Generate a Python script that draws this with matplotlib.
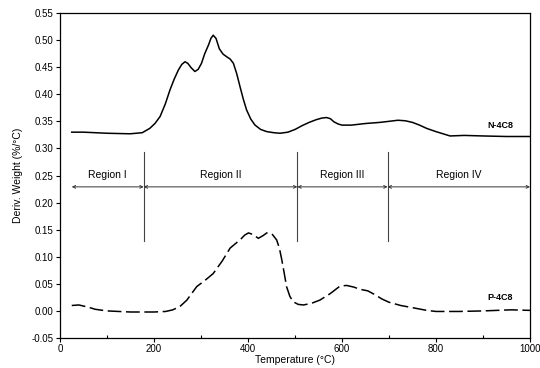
import matplotlib
matplotlib.use('Agg')
import matplotlib.pyplot as plt
from matplotlib.ticker import MultipleLocator

plt.rcParams['font.family'] = ['Liberation Sans', 'DejaVu Sans']

# N-4C8 (solid)
n_temp = [25, 50, 100, 149, 175, 191, 202, 213, 224, 234, 243, 252, 259, 266, 272, 279,
          287, 294, 301, 308, 316, 321, 326, 332, 339, 347, 355, 362, 369, 376, 383,
          390, 397, 406, 415, 427, 440, 455, 468, 485, 500, 515, 530, 545, 557, 567,
          575, 583, 592, 600, 620, 650, 680, 700, 719, 735, 750, 765, 780, 800, 815,
          830, 860, 900, 950, 1000]
n_dtg = [0.330, 0.330, 0.328, 0.327, 0.329, 0.337, 0.346, 0.359, 0.382, 0.408, 0.428,
         0.445, 0.455, 0.460, 0.457, 0.449, 0.442, 0.446, 0.457, 0.475, 0.491, 0.503,
         0.509, 0.503, 0.484, 0.474, 0.469, 0.465, 0.457, 0.438, 0.414, 0.391, 0.371,
         0.354, 0.343, 0.335, 0.331, 0.329, 0.328, 0.330, 0.335, 0.342, 0.348, 0.353,
         0.356, 0.357, 0.355, 0.349, 0.345, 0.343, 0.343, 0.346, 0.348, 0.350, 0.352,
         0.351, 0.348, 0.343, 0.337, 0.331, 0.327, 0.323, 0.324, 0.323, 0.322, 0.322]

# P-4C8 (dashed)
p_temp = [25, 40, 60, 75, 100, 150, 200, 225, 240, 255, 270, 291, 308, 326, 345, 362,
          373, 383, 393, 401, 411, 422, 432, 440, 445, 452, 461, 467, 472, 477, 482,
          489, 496, 507, 518, 535, 553, 575, 596, 610, 625, 638, 655, 670, 685, 700,
          725, 750, 780, 800, 850, 900, 960, 1000]
p_dtg = [0.010, 0.011, 0.007, 0.003, 0.000, -0.002, -0.002, -0.001, 0.002, 0.008, 0.020,
         0.045, 0.056, 0.069, 0.092, 0.116, 0.124, 0.131, 0.140, 0.144, 0.141, 0.134,
         0.139, 0.144, 0.144, 0.141, 0.131, 0.115, 0.094, 0.070, 0.045, 0.027, 0.017,
         0.012, 0.011, 0.014, 0.020, 0.032, 0.046, 0.047, 0.044, 0.040, 0.037, 0.030,
         0.022, 0.016, 0.010, 0.006, 0.001, -0.001, -0.001, 0.000, 0.002, 0.001]

region_bounds = [25, 178, 505, 697, 1000]
region_names = ['Region I', 'Region II', 'Region III', 'Region IV']

fig = plt.figure(figsize=(5.4, 3.68), dpi=100)
ax = fig.add_axes([60/540, 30/368, 470/540, 325/368])

ax.plot(n_temp, n_dtg, color='black', lw=1.1)
ax.plot(p_temp, p_dtg, color='black', lw=1.1, dashes=(9, 3))

# region markers
for xb in region_bounds[1:-1]:
    ax.plot([xb, xb], [0.13, 0.293], color='#444444', lw=0.8)
for i in range(len(region_names)):
    x0, x1 = region_bounds[i], region_bounds[i + 1]
    ax.annotate('', xy=(x1, 0.229), xytext=(x0, 0.229),
                arrowprops=dict(arrowstyle='<->', color='#333333', lw=0.7,
                                mutation_scale=5, shrinkA=0, shrinkB=0))
    ax.text((x0 + x1) / 2, 0.251, region_names[i], ha='center', va='center', fontsize=7.5)

ax.text(936, 0.343, 'N-4C8', fontsize=6.5, fontweight='bold', ha='center', va='center')
ax.text(936, 0.025, 'P-4C8', fontsize=6.5, fontweight='bold', ha='center', va='center')

ax.set_xlim(0, 1000)
ax.set_ylim(-0.05, 0.55)
ax.xaxis.set_major_locator(MultipleLocator(200))
ax.xaxis.set_minor_locator(MultipleLocator(100))
ax.yaxis.set_major_locator(MultipleLocator(0.05))
ax.yaxis.set_major_formatter(plt.FormatStrFormatter('%.2f'))
ax.tick_params(which='major', direction='out', length=3, width=0.8, labelsize=7, pad=1.5)
ax.tick_params(axis='x', which='minor', direction='in', length=2, width=0.8)
for s in ax.spines.values():
    s.set_linewidth(0.9)

ax.set_xlabel('Temperature (°C)', fontsize=7.5, labelpad=0.5)
ax.set_ylabel('Deriv. Weight (%/°C)', fontsize=7.5, labelpad=6)

fig.savefig('out.png', dpi=100)
